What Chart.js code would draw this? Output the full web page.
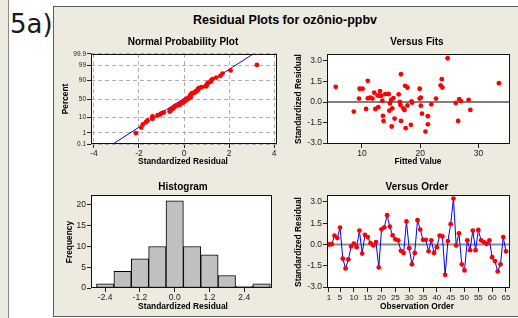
<!DOCTYPE html>
<html><head><meta charset="utf-8">
<script src="https://cdn.jsdelivr.net/npm/chart.js@4.4.1/dist/chart.umd.min.js"></script>
<style>
html,body{margin:0;padding:0}
body{width:518px;height:318px;overflow:hidden;position:relative;background:#edeae0;font-family:"Liberation Sans",Arial,sans-serif}
.a{position:absolute}
.t{position:absolute;white-space:nowrap;font-weight:bold;color:#000;transform:translate(-50%,-50%);z-index:5}
.r{transform:translate(-50%,-50%) rotate(-90deg)}
canvas{position:absolute;z-index:3}
</style></head><body>
<div class="a" style="left:8px;top:0;width:510px;height:318px;background:#fff"></div>
<div class="a" style="left:8px;top:0;width:1px;height:318px;background:#8a8a8a"></div>
<div class="a" style="left:53px;top:6px;width:470px;height:309px;background:#edeae0;border:1px solid #5a5a5a;border-right:none"></div>
<div class="a" style="left:10px;top:11px;font:26px/26px 'DejaVu Sans';color:#1a1a1a">5a)</div>

<canvas id="cNpp"></canvas>
<canvas id="cFit"></canvas>
<canvas id="cHist"></canvas>
<canvas id="cOrd"></canvas>

<div class="t" style="left:285px;top:20px;font-size:12.5px">Residual Plots for ozônio-ppbv</div>
<div class="t" style="left:183px;top:41px;font-size:10px">Normal Probability Plot</div>
<div class="t" style="left:417px;top:41px;font-size:10px">Versus Fits</div>
<div class="t" style="left:183px;top:186px;font-size:10px">Histogram</div>
<div class="t" style="left:417px;top:186px;font-size:10px">Versus Order</div>
<div class="t" style="left:183px;top:161px;font-size:8.4px">Standardized Residual</div>
<div class="t" style="left:418px;top:161px;font-size:8.4px">Fitted Value</div>
<div class="t" style="left:183px;top:306px;font-size:8.4px">Standardized Residual</div>
<div class="t" style="left:417px;top:306px;font-size:8.4px">Observation Order</div>
<div class="t r" style="left:65px;top:99px;font-size:8.4px">Percent</div>
<div class="t r" style="left:298px;top:99px;font-size:8.4px">Standardized Residual</div>
<div class="t r" style="left:69px;top:242px;font-size:8.4px">Frequency</div>
<div class="t r" style="left:298px;top:242px;font-size:8.4px">Standardized Residual</div>

<script>
// ---------------- data ----------------
const orderResid = [0.0,0.02,0.62,0.45,1.19,-1.0,-1.69,-1.05,-0.14,0.05,-0.19,0.98,-0.64,0.67,0.52,0.1,-0.07,0.17,-1.62,1.07,
  1.21,2.07,1.26,0.64,0.36,0.29,-0.45,-0.6,1.62,-0.26,-1.4,-0.6,1.71,1.05,0.33,0.33,-0.48,0.29,-0.6,-0.19,
  0.62,0.57,-2.14,0.24,1.43,3.24,-0.07,0.79,-1.4,-1.83,0.29,-0.4,0.98,-0.4,1.02,0.29,0.17,0.05,0.29,-0.9,
  -1.17,-1.9,-1.4,0.52,-0.48];
const fitValues = [5.5,8.6,9.6,10.1,9.5,11.0,10.7,11.0,11.4,11.8,12.1,12.3,12.7,12.8,13.1,13.3,13.5,13.6,13.7,14.0,
  14.5,14.7,14.8,15.0,15.1,15.2,15.4,15.6,16.3,16.5,16.6,16.7,16.7,17.1,17.3,17.4,17.5,17.8,17.8,18.4,
  18.5,18.6,19.9,19.9,20.1,20.1,20.3,20.9,21.3,21.3,21.9,22.7,23.5,23.8,23.7,24.7,26.1,26.5,26.7,27.0,
  28.3,28.6,33.5,13.0,14.6];
const fitResid = [1.11,-0.70,0.97,0.97,0.25,1.55,-0.51,0.27,0.32,0.25,0.68,-0.51,0.48,-0.38,0.80,0.46,0.1,-1.01,-1.38,0.58,
  0.60,-0.63,-0.1,0.15,-1.79,-0.46,0.29,-1.21,0.56,0.0,-0.22,2.03,-1.38,-0.46,-0.58,1.18,-1.91,1.06,-0.25,-1.67,
  0.05,-0.05,0.25,0.97,0.32,-0.27,-0.85,-2.16,-1.04,-1.63,-0.17,0.25,1.21,1.06,1.67,3.2,-0.07,-1.38,0.2,0.07,
  0.15,-0.58,1.38,0.45,0.58];
const histCenters = [-2.4,-1.8,-1.2,-0.6,0.0,0.6,1.2,1.8,2.4,3.0];
const histCounts  = [1,4,7,10,21,10,8,3,0,1];
const nppPercents = [0.1,1,10,50,90,99,99.9];
const nppPctLabels = ['0.1','1','10','50','90','99','99.9'];
const nppXTicks = [-4,-2,0,2,4];
const nppLineResid = [-3.16,3.07];
const nppLinePct = [0.1,99.9];
const residTicks = [-3,-1.5,0,1.5,3];
const residTickLabels = ['-3.0','-1.5','0.0','1.5','3.0'];
const fitTicks = [10,20,30];
const histXTicks = [-2.4,-1.2,0,1.2,2.4];
const histXLabels = ['-2.4','-1.2','0.0','1.2','2.4'];
const histYTicks = [0,5,10,15,20];
const orderTicks = [1,5,10,15,20,25,30,35,40,45,50,55,60,65];

// ---------------- helpers ----------------
function probit(p){
  const a=[-3.969683028665376e+01,2.209460984245205e+02,-2.759285104469687e+02,1.383577518672690e+02,-3.066479806614716e+01,2.506628277459239e+00];
  const b=[-5.447609879822406e+01,1.615858368580409e+02,-1.556989798598866e+02,6.680131188771972e+01,-1.328068155288572e+01];
  const c=[-7.784894002430293e-03,-3.223964580411365e-01,-2.400758277161838e+00,-2.549732539343734e+00,4.374664141464968e+00,2.938163982698783e+00];
  const d=[7.784695709041462e-03,3.224671290700398e-01,2.445134137142996e+00,3.754408661907416e+00];
  const pl=0.02425,ph=1-pl;let q,r;
  if(p<pl){q=Math.sqrt(-2*Math.log(p));return (((((c[0]*q+c[1])*q+c[2])*q+c[3])*q+c[4])*q+c[5])/((((d[0]*q+d[1])*q+d[2])*q+d[3])*q+1);}
  if(p>ph){q=Math.sqrt(-2*Math.log(1-p));return -(((((c[0]*q+c[1])*q+c[2])*q+c[3])*q+c[4])*q+c[5])/((((d[0]*q+d[1])*q+d[2])*q+d[3])*q+1);}
  q=p-0.5;r=q*q;return (((((a[0]*r+a[1])*r+a[2])*r+a[3])*r+a[4])*r+a[5])*q/(((((b[0]*r+b[1])*r+b[2])*r+b[3])*r+b[4])*r+1);
}
const F='"Liberation Sans", Arial, sans-serif';
const boxPlugin={id:'box',
  beforeDraw(c){const a=c.chartArea,x=c.ctx;x.save();x.fillStyle='#fff';x.fillRect(a.left,a.top,a.right-a.left,a.bottom-a.top);x.restore();},
  afterDraw(c){const a=c.chartArea,x=c.ctx;x.save();x.strokeStyle='#111';x.lineWidth=1;x.strokeRect(a.left+0.5,a.top+0.5,a.right-a.left-1,a.bottom-a.top-1);x.restore();}
};
function axis(min,max,ticks,labels,fontSize,extra){
  const o={type:'linear',min:min,max:max,offset:false,
    afterBuildTicks:s=>{s.ticks=ticks.map(v=>({value:v}));},
    ticks:{autoSkip:false,maxRotation:0,minRotation:0,padding:1,color:'#1a1a1a',font:{family:F,size:fontSize},
      callback:(v,i)=>labels[i]},
    grid:{offset:false,drawOnChartArea:false,drawTicks:true,tickLength:4,tickColor:'#222',tickWidth:1},
    border:{display:false}};
  if(extra){ if(extra.grid) Object.assign(o.grid,extra.grid); if(extra.border) Object.assign(o.border,extra.border); }
  return o;
}
function mk(id,rect,area,cfg){
  const cv=document.getElementById(id);
  cv.style.left=rect[0]+'px';cv.style.top=rect[1]+'px';
  cv.width=rect[2];cv.height=rect[3];
  cv.style.width=rect[2]+'px';cv.style.height=rect[3]+'px';
  const yw=area[0]-rect[0],padT=area[1]-rect[1],padR=rect[0]+rect[2]-area[2],xh=rect[1]+rect[3]-area[3];
  cfg.options=Object.assign({responsive:false,animation:false,devicePixelRatio:1,events:[],
    layout:{padding:{left:0,top:padT,right:padR,bottom:0}},
    plugins:{legend:{display:false},tooltip:{enabled:false}}},cfg.options);
  cfg.options.scales.x.afterFit=s=>{s.height=xh;};
  cfg.options.scales.y.afterFit=s=>{s.width=yw;};
  cfg.plugins=[boxPlugin];
  return new Chart(cv,cfg);
}
const red='#ff0000',blue='#0000ff';

// ---------------- Normal probability plot ----------------
const sorted=[...orderResid].sort((a,b)=>a-b);
const n=sorted.length;
const nppPts=sorted.map((r,i)=>({x:r,y:probit((i+1-0.375)/(n+0.25))}));
const zMin=probit(0.001),zMax=probit(0.999);
mk('cNpp',[55,46,230,116],[91,54,277,144],{
  type:'scatter',
  data:{datasets:[
    {data:nppPts,pointRadius:2.4,pointBorderWidth:0,pointBackgroundColor:red,showLine:false,order:1},
    {data:nppLineResid.map((r,i)=>({x:r,y:probit(nppLinePct[i]/100)})),showLine:true,borderColor:blue,borderWidth:1,pointRadius:0,order:2}
  ]},
  options:{scales:{
    x:axis(-4.133,4.133,nppXTicks,nppXTicks.map(String),8.5,{grid:{drawOnChartArea:true,color:'#b0b0b0'},border:{dash:[4,3]}}),
    y:axis(zMin,zMax,nppPercents.map(p=>probit(p/100)),nppPctLabels,6.5,{grid:{drawOnChartArea:true,color:'#b0b0b0'},border:{dash:[4,3]}})
  }}
});

// ---------------- Versus fits ----------------
mk('cFit',[300,46,217,116],[327,54,510,144],{
  type:'scatter',
  data:{datasets:[
    {data:fitValues.map((f,i)=>({x:f,y:fitResid[i]})),pointRadius:2.4,pointBorderWidth:0,pointBackgroundColor:red,order:1},
    {data:[{x:4.0,y:0},{x:35.4,y:0}],showLine:true,borderColor:'#000',borderWidth:1,pointRadius:0,order:2}
  ]},
  options:{scales:{
    x:axis(4.0,35.4,fitTicks,fitTicks.map(String),8.5),
    y:axis(-3.07,3.51,residTicks,residTickLabels,8.5)
  }}
});

// ---------------- Histogram ----------------
mk('cHist',[55,187,225,116],[91,195,272,288],{
  type:'bar',
  data:{datasets:[{data:histCenters.map((c,i)=>({x:c,y:histCounts[i]})),backgroundColor:'#c0c0c0',borderColor:'#000',borderWidth:1,
    borderSkipped:false,barPercentage:1,categoryPercentage:1,minBarLength:2}]},
  options:{scales:{
    x:axis(-2.89,3.36,histXTicks,histXLabels,8.5),
    y:axis(0,22.4,histYTicks,histYTicks.map(String),8.5)
  }}
});

// ---------------- Versus order ----------------
mk('cOrd',[300,187,217,116],[327,195,510,288],{
  type:'scatter',
  data:{datasets:[
    {data:orderResid.map((r,i)=>({x:i+1,y:r})),showLine:true,borderColor:blue,borderWidth:1,pointRadius:2.4,pointBorderWidth:0,pointBackgroundColor:red,order:1},
    {data:[{x:0.28,y:0},{x:66.45,y:0}],showLine:true,borderColor:'#8c8c8c',borderWidth:2,pointRadius:0,order:2}
  ]},
  options:{scales:{
    x:axis(0.28,66.45,orderTicks,orderTicks.map(String),8),
    y:axis(-3.07,3.49,residTicks,residTickLabels,8.5)
  }}
});
</script>
</body></html>
